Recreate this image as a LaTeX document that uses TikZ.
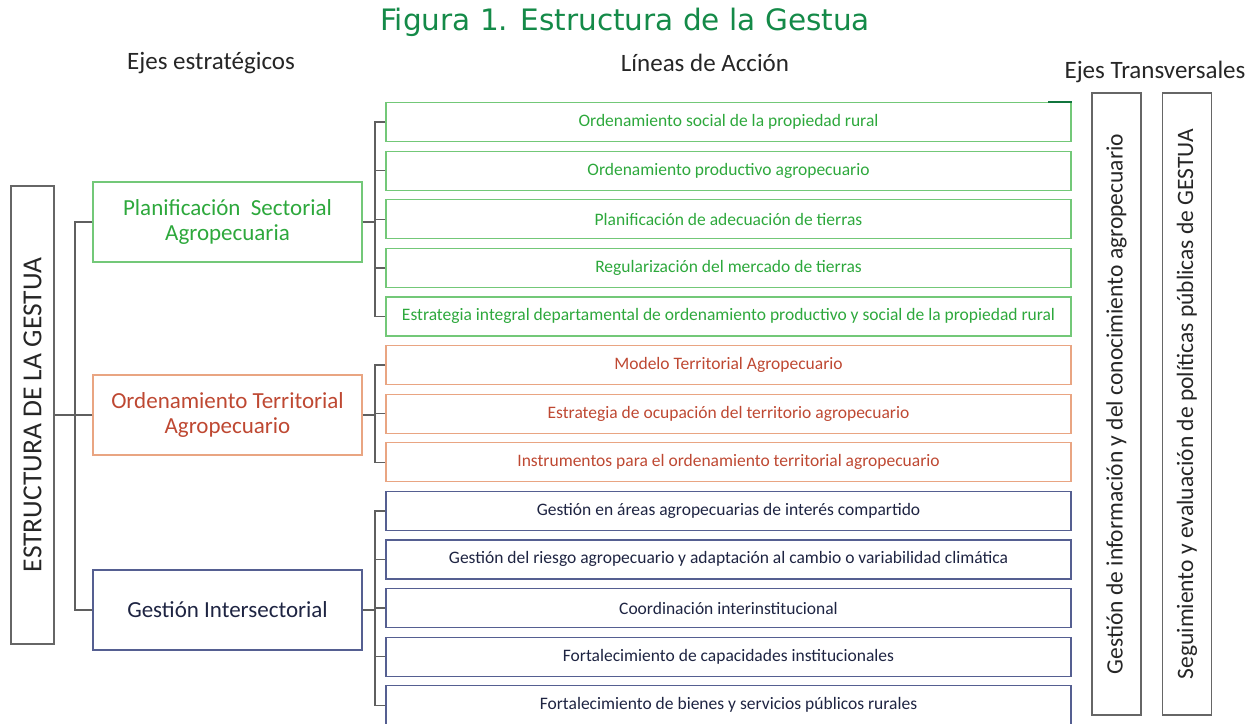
\documentclass[tikz,border=0pt]{standalone}
\usepackage{fontspec}
\setmainfont{Carlito}
\newfontfamily\titlefont{DejaVu Sans}
\usetikzlibrary{positioning}
\definecolor{titlegreen}{RGB}{20,138,72}
\definecolor{psborder}{RGB}{115,200,120}
\definecolor{pstext}{RGB}{45,168,60}
\definecolor{otborder}{RGB}{233,165,130}
\definecolor{ottext}{RGB}{190,72,50}
\definecolor{giborder}{RGB}{85,95,145}
\definecolor{gitext}{RGB}{30,36,66}
\definecolor{linkgray}{RGB}{95,95,95}

\begin{document}
\begin{tikzpicture}[x=1pt,y=-1pt,
    eje/.style={draw,line width=1.3pt,minimum width=269pt,minimum height=80pt,inner sep=0pt,align=center,font=\fontsize{23}{25}\selectfont},
    linea/.style={draw,line width=1.2pt,minimum width=685pt,minimum height=39pt,inner sep=0pt,font=\fontsize{17.5}{20}\selectfont},
    transv/.style={draw=black!60,line width=1.3pt,minimum width=622pt,minimum height=49pt,inner sep=0pt,rotate=90,text=black!85,font=\fontsize{23.5}{26}\selectfont},
    link/.style={draw=linkgray,line width=1.4pt},
    header/.style={text=black!85,font=\fontsize{25}{28}\selectfont}]
    \useasboundingbox (0,0) rectangle (1258,723);
    \clip (0,0) rectangle (1258,723);

    \node[titlegreen,font=\titlefont\fontsize{29.5}{34}\selectfont] (titulo) at (625,22) {Figura 1. Estructura de la Gestua};
    \node[header] (hejes) at (211,63) {Ejes estratégicos};
    \node[header] (hlineas) at (705,63) {Líneas de Acción};
    \node[header] (htransv) at (1155,72) {Ejes Transversales};

    \node[draw=black!60,line width=1.3pt,minimum width=458pt,minimum height=43pt,inner sep=0pt,rotate=90,text=black!85,font=\fontsize{27.5}{30}\selectfont] (raiz) at (32.5,415) {ESTRUCTURA DE LA GESTUA};

    \node[eje,draw=psborder,text=pstext] (plan) at (227.5,222) {Planificación~ Sectorial\\Agropecuaria};
    \node[eje,draw=otborder,text=ottext] (orde) at (227.5,415) {Ordenamiento Territorial\\Agropecuario};
    \node[eje,draw=giborder,text=gitext] (gest) at (227.5,610) {Gestión Intersectorial};

    \begin{scope}[every node/.append style={linea,draw=psborder,text=pstext}]
    \node (l1) at (728.5,122) {Ordenamiento social de la propiedad rural};
    \node (l2) at (728.5,170.6) {Ordenamiento productivo agropecuario};
    \node (l3) at (728.5,219.2) {Planificación de adecuación de tierras};
    \node (l4) at (728.5,267.8) {Regularización del mercado de tierras};
    \node (l5) at (728.5,316.4) {Estrategia integral departamental de ordenamiento productivo y social de la propiedad rural};
    \end{scope}
    \begin{scope}[every node/.append style={linea,draw=otborder,text=ottext}]
    \node (l6) at (728.5,365) {Modelo Territorial Agropecuario};
    \node (l7) at (728.5,413.6) {Estrategia de ocupación del territorio agropecuario};
    \node (l8) at (728.5,462.2) {Instrumentos para el ordenamiento territorial agropecuario};
    \end{scope}
    \begin{scope}[every node/.append style={linea,draw=giborder,text=gitext}]
    \node (l9) at (728.5,510.8) {Gestión en áreas agropecuarias de interés compartido};
    \node (l10) at (728.5,559.4) {Gestión del riesgo agropecuario y adaptación al cambio o variabilidad climática};
    \node (l11) at (728.5,608) {Coordinación interinstitucional};
    \node (l12) at (728.5,656.6) {Fortalecimiento de capacidades institucionales};
    \node (l13) at (728.5,705.2) {Fortalecimiento de bienes y servicios públicos rurales};
    \end{scope}
    \draw[titlegreen!85!black,line width=1.6pt] (l1.north east) -- ++(-24,0);

    \node[transv] (tinfo) at (1116.5,404) {Gestión de información y del conocimiento agropecuario};
    \node[transv] (tseg) at (1187,404) {Seguimiento y evaluación de políticas públicas de GESTUA};

    \coordinate (tronco) at (75,415);
    \draw[link] (raiz.south) -- (tronco);
    \draw[link] (plan.west) -| (tronco);
    \draw[link] (gest.west) -| (tronco);
    \draw[link] (orde.west) -- (tronco);

    \coordinate (r1) at (375,222);
    \coordinate (r2) at (375,415);
    \coordinate (r3) at (375,610);
    \draw[link] (plan.east) -- (r1);
    \draw[link] (orde.east) -- (r2);
    \draw[link] (gest.east) -- (r3);
    \foreach \n in {l1,l2,l3,l4,l5}
        \draw[link] (\n.west) -| (r1);
    \foreach \n in {l6,l7,l8}
        \draw[link] (\n.west) -| (r2);
    \foreach \n in {l9,l10,l11,l12,l13}
        \draw[link] (\n.west) -| (r3);
\end{tikzpicture}
\end{document}
